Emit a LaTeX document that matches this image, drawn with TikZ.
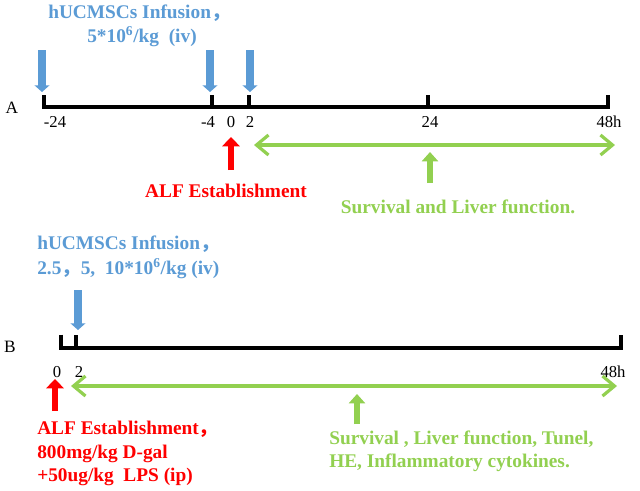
\documentclass[tikz,border=0pt]{standalone}
\usepackage{fontspec}
\setmainfont{Liberation Serif}
\newfontfamily\cjk{Noto Sans CJK SC}
\usetikzlibrary{arrows.meta}
\definecolor{cblue}{RGB}{91,155,213}
\definecolor{cred}{RGB}{255,0,0}
\definecolor{cgreen}{RGB}{146,208,80}
\begin{document}
\begin{tikzpicture}[x=0.75pt,y=-0.75pt,
  axis/.style={line width=3pt,black},
  bluearr/.style={cblue,line width=6pt,-{Triangle[width=11pt,length=5pt]}},
  redarr/.style={cred,line width=4.2pt,-{Triangle[width=13pt,length=7pt]}},
  greenup/.style={cgreen,line width=4pt,-{Triangle[width=12pt,length=7pt]}},
  greenspan/.style={cgreen,line width=2.4pt,{Straight Barb[length=9pt,width=15pt,line width=2.4pt]}-{Straight Barb[length=9pt,width=15pt,line width=2.4pt]}},
  bluetxt/.style={text=cblue,font=\bfseries\fontsize{14.5}{18}\selectfont,inner sep=0pt,align=left},
  redtxt/.style={text=cred,font=\bfseries\fontsize{14.5}{17.6}\selectfont,inner sep=0pt,align=left},
  greentxt/.style={text=cgreen,font=\bfseries\fontsize{14.5}{17.3}\selectfont,inner sep=0pt,align=left},
  ticklbl/.style={font=\fontsize{12.5}{14}\selectfont,inner sep=0pt},
  paneltxt/.style={font=\fontsize{13}{15}\selectfont,inner sep=0pt}]
\useasboundingbox[fill=white] (0,0) rectangle (640,490);

% ---------- Panel A ----------
\node[paneltxt] (lA) at (12,108) {A};
\coordinate (a0) at (44,107);
\coordinate (a1) at (608,107);
\coordinate (t1) at (212,107);
\coordinate (t2) at (249,107);
\coordinate (t3) at (428,107);
\draw[axis] ([yshift=9pt]a0) -- (a0) -- (a1) -- ([yshift=9pt]a1);
\draw[axis] (t1) -- ([yshift=9pt]t1);
\draw[axis] (t2) -- ([yshift=9pt]t2);
\draw[axis] (t3) -- ([yshift=9pt]t3);

\node[bluetxt,anchor=west] (infA1) at (48,13) {hUCMSCs Infusion{\cjk ，}};
\node[bluetxt] (infA2) at (142,37) {5*10\textsuperscript{6}/kg\ \ (iv)};

\coordinate (ba1s) at (42,50); \coordinate (ba1e) at (42,92);
\coordinate (ba2s) at (210,50); \coordinate (ba2e) at (210,92);
\coordinate (ba3s) at (250,50); \coordinate (ba3e) at (250,92);
\draw[bluearr] (ba1s) -- (ba1e);
\draw[bluearr] (ba2s) -- (ba2e);
\draw[bluearr] (ba3s) -- (ba3e);

\node[ticklbl] (m24) at (55,122) {-24};
\node[ticklbl] (m4) at (208,122) {-4};
\node[ticklbl] (z0) at (231,122) {0};
\node[ticklbl] (p2) at (250,122) {2};
\node[ticklbl] (p24) at (430,122) {24};
\node[ticklbl] (p48) at (609,122) {48h};

\coordinate (rAs) at (231,170); \coordinate (rAe) at (231,137);
\draw[redarr] (rAs) -- (rAe);
\node[redtxt] (alfA) at (226,191) {ALF Establishment};

\coordinate (gAl) at (254,145); \coordinate (gAr) at (615,145);
\draw[greenspan] (gAl) -- (gAr);
\coordinate (guAs) at (430,183); \coordinate (guAe) at (430,152);
\draw[greenup] (guAs) -- (guAe);
\node[greentxt] (survA) at (458,207) {Survival and Liver function.};

% ---------- Panel B ----------
\node[bluetxt,anchor=west] (infB1) at (37,244) {hUCMSCs Infusion{\cjk ，}};
\node[bluetxt,anchor=west] (infB2) at (37,269) {2.5{\cjk ，}5,\ \ 10*10\textsuperscript{6}/kg (iv)};
\coordinate (bbs) at (78,290); \coordinate (bbe) at (78,330);
\draw[bluearr] (bbs) -- (bbe);

\node[paneltxt] (lB) at (10,347) {B};
\coordinate (b0) at (61,348);
\coordinate (b1) at (621,348);
\coordinate (bt2) at (76,348);
\draw[axis] ([yshift=10pt]b0) -- (b0) -- (b1) -- ([yshift=10pt]b1);
\draw[axis] (bt2) -- ([yshift=10pt]bt2);

\node[ticklbl] (bz0) at (57,372) {0};
\node[ticklbl] (bp2) at (79,372) {2};
\node[ticklbl] (bp48) at (613,372) {48h};

\coordinate (rBs) at (55,411); \coordinate (rBe) at (55,379);
\draw[redarr] (rBs) -- (rBe);
\node[redtxt,anchor=north west] (alfB) at (37,421) {ALF Establishment{\cjk ，}\\800mg/kg D-gal\\+50ug/kg\ \ LPS (ip)};

\coordinate (gBl) at (71,386); \coordinate (gBr) at (617,386);
\draw[greenspan] (gBl) -- (gBr);
\coordinate (guBs) at (357,424); \coordinate (guBe) at (357,394);
\draw[greenup] (guBs) -- (guBe);
\node[greentxt,anchor=north west] (survB) at (329,431) {Survival , Liver function, Tunel,\\HE, Inflammatory cytokines.};
\end{tikzpicture}
\end{document}
